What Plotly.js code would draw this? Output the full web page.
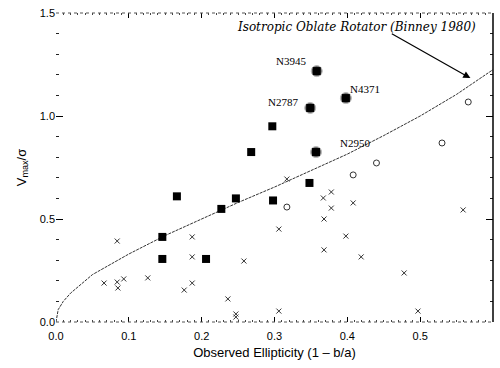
<!DOCTYPE html>
<html>
<head>
<meta charset="utf-8">
<script src="https://cdn.plot.ly/plotly-3.0.1.min.js"></script>
<style>html,body{margin:0;padding:0;background:#fff;}#chart{width:500px;height:368px;}</style>
</head>
<body>
<div id="chart"></div>
<script>
// Filled squares (unlabelled galaxies)
const sqX = [0.146, 0.146, 0.166, 0.206, 0.227, 0.247, 0.268, 0.297, 0.298, 0.348];
const sqY = [0.413, 0.306, 0.610, 0.306, 0.549, 0.600, 0.825, 0.950, 0.590, 0.675];

// Named (circled) galaxies
const namedGal = ['N3945', 'N2787', 'N4371', 'N2950'];
const namedX = [0.358, 0.349, 0.398, 0.357];
const namedY = [1.218, 1.039, 1.087, 0.825];

// Open circles
const circX = [0.317, 0.408, 0.440, 0.530, 0.566];
const circY = [0.558, 0.714, 0.772, 0.869, 1.068];

// Crosses
const crossX = [0.084, 0.187, 0.317, 0.378, 0.367, 0.408, 0.378, 0.368, 0.306, 0.398, 0.368, 0.419, 0.559,
                0.066, 0.084, 0.085, 0.093, 0.126, 0.187, 0.258, 0.176, 0.187, 0.236, 0.247, 0.247, 0.306, 0.478, 0.497];
const crossY = [0.393, 0.413, 0.694, 0.631, 0.602, 0.578, 0.553, 0.500, 0.451, 0.417, 0.350, 0.316, 0.544,
                0.189, 0.194, 0.165, 0.209, 0.214, 0.316, 0.296, 0.155, 0.189, 0.112, 0.039, 0.024, 0.053, 0.238, 0.053];

// Isotropic oblate rotator curve
const curveX = [0.0, 0.003, 0.01, 0.02, 0.05, 0.10, 0.15, 0.20, 0.25, 0.30, 0.35, 0.40, 0.45, 0.50, 0.55, 0.60];
const curveY = [0.0, 0.06, 0.10, 0.14, 0.23, 0.33, 0.42, 0.50, 0.58, 0.655, 0.735, 0.815, 0.905, 1.00, 1.105, 1.225];

const xTicks = [0.0, 0.1, 0.2, 0.3, 0.4, 0.5, 0.6];
const xTickText = ['0.0', '0.1', '0.2', '0.3', '0.4', '0.5', '0.6'];
const yTicks = [0.0, 0.5, 1.0, 1.5];
const yTickText = ['0.0', '0.5', '1.0', '1.5'];

const traces = [
  {x: curveX, y: curveY, mode: 'lines', line: {color: '#333', width: 1, dash: '3px,1px'}, hoverinfo: 'skip'},
  {x: crossX, y: crossY, mode: 'markers', marker: {symbol: 'x-thin-open', size: 5, color: '#333', line: {color: '#333', width: 1}}},
  {x: circX, y: circY, mode: 'markers', marker: {symbol: 'circle-open', size: 6, color: '#333', line: {color: '#333', width: 1}}},
  {x: sqX, y: sqY, mode: 'markers', marker: {symbol: 'square', size: 8, color: '#000'}},
  {x: namedX, y: namedY, mode: 'markers', marker: {symbol: 'circle', size: 11, color: '#666', line: {color: '#bbb', width: 1}}},
  {x: namedX, y: namedY, mode: 'markers', text: namedGal, marker: {symbol: 'square', size: 8, color: '#000'}}
];

const serif = {family: 'Liberation Serif, Times New Roman, serif', size: 11, color: '#000'};
const annotations = [
  {x: 0.58, y: 1.432, xref: 'x', yref: 'y', text: '<i>Isotropic Oblate Rotator (Binney 1980)</i>', showarrow: false,
   xanchor: 'right', yanchor: 'middle', font: {family: 'DejaVu Serif, serif', size: 12, color: '#000'}},
  {x: 0.569, y: 1.184, xref: 'x', yref: 'y', ax: 0.459, ay: 1.403, axref: 'x', ayref: 'y', text: '', showarrow: true,
   arrowhead: 2, arrowsize: 1.2, arrowwidth: 1.2, arrowcolor: '#000'},
  {x: 0.323, y: 1.267, text: namedGal[0], showarrow: false, font: serif},
  {x: 0.312, y: 1.068, text: namedGal[1], showarrow: false, font: serif},
  {x: 0.424, y: 1.131, text: namedGal[2], showarrow: false, font: serif},
  {x: 0.410, y: 0.869, text: namedGal[3], showarrow: false, font: serif}
];

const tickFont = {family: 'Liberation Sans, Arial, sans-serif', size: 11, color: '#000'};
const layout = {
  width: 500, height: 368,
  margin: {l: 56, r: 7, t: 13, b: 46},
  paper_bgcolor: '#fff', plot_bgcolor: '#fff',
  showlegend: false,
  xaxis: {
    range: [0, 0.6], tickvals: xTicks, ticktext: xTickText, ticks: 'inside', ticklen: 5, tickwidth: 1, tickcolor: '#000',
    mirror: 'ticks', showline: false, showgrid: false, zeroline: false, tickfont: tickFont, ticklabelstandoff: 6,
    minor: {dtick: 0.01, ticks: 'inside', ticklen: 2, tickwidth: 1, tickcolor: '#444', showgrid: false},
    title: {text: 'Observed Ellipticity (1 \u2013 b/a)', font: {family: 'Liberation Sans, Arial, sans-serif', size: 13, color: '#000'}, standoff: 6}
  },
  yaxis: {
    range: [0, 1.5], tickvals: yTicks, ticktext: yTickText, ticks: 'inside', ticklen: 7, tickwidth: 1, tickcolor: '#000',
    mirror: 'ticks', showline: false, showgrid: false, zeroline: false, tickfont: tickFont,
    minor: {dtick: 0.1, ticks: 'inside', ticklen: 3, tickwidth: 1, tickcolor: '#222', showgrid: false},
    title: {text: 'V<sub>max</sub>/\u03c3', font: {family: 'Liberation Sans, Arial, sans-serif', size: 13, color: '#000'}, standoff: 10}
  },
  shapes: [
    {type: 'line', xref: 'paper', yref: 'paper', x0: 1, x1: 1, y0: 0, y1: 1, line: {color: '#000', width: 1.5}},
    {type: 'line', xref: 'paper', yref: 'paper', x0: 0, x1: 1, y0: 0, y1: 0, line: {color: '#555', width: 1, dash: 'dot'}},
    {type: 'line', xref: 'paper', yref: 'paper', x0: 0, x1: 1, y0: 1, y1: 1, line: {color: '#555', width: 1, dash: 'dot'}}
  ],
  annotations: annotations
};

Plotly.newPlot('chart', traces, layout, {staticPlot: true, displayModeBar: false});
</script>
</body>
</html>
